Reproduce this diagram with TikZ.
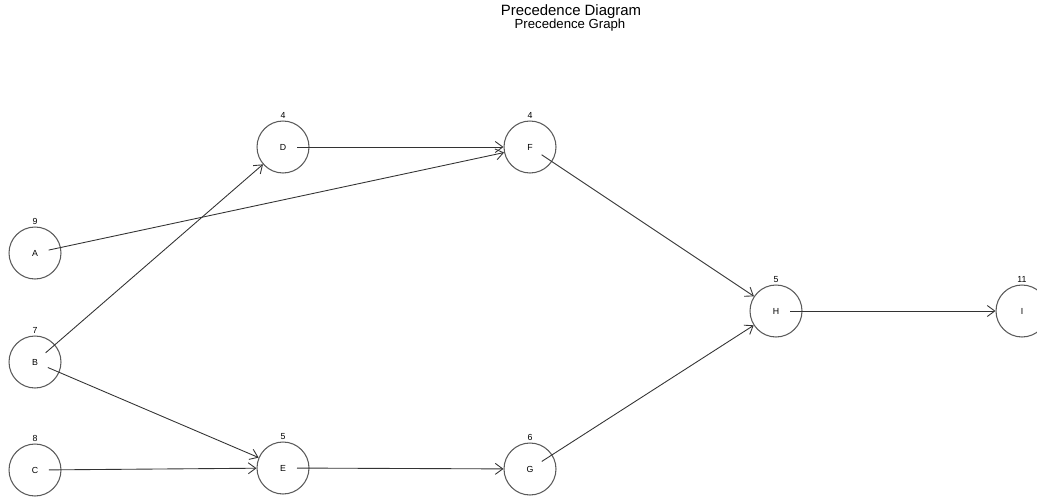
\documentclass[tikz,border=0pt]{standalone}
\usepackage{fontspec}
\setmainfont{Liberation Sans}
\usepackage{tikz}
\usetikzlibrary{arrows.meta}
\definecolor{graphEdge}{HTML}{333333}
\definecolor{graphNode}{HTML}{5A5A5A}

\begin{document}
\begin{tikzpicture}[
  x=0.02cm, y=-0.02cm,
  task/.style={draw=graphNode, circle, minimum size=1.04cm, inner sep=0pt,
               font=\fontsize{5}{6}\selectfont, line width=0.6pt,
               label={[font=\fontsize{5}{6}\selectfont, inner sep=0.8pt, label distance=0pt]above:#1}},
  a/.style={-{Straight Barb[length=1.5mm, width=2.2mm]}, draw=graphEdge, line width=0.5pt,
            shorten <=0.28cm}
]
\useasboundingbox (0,0) rectangle (1037,497);
\clip (0,0) rectangle (1037,497);
\node[font=\fontsize{8.5}{9}\selectfont] (title) at (571,12) {Precedence Diagram};
\node[font=\fontsize{7.5}{8}\selectfont] (subtitle) at (570,25) {Precedence Graph};

\node[task=9] (A) at (35,253) {A};
\node[task=7] (B) at (35,362) {B};
\node[task=8] (C) at (35,470) {C};
\node[task=4] (D) at (283,147) {D};
\node[task=5] (E) at (283,468) {E};
\node[task=4] (F) at (530,147) {F};
\node[task=6] (G) at (530,469) {G};
\node[task=5] (H) at (776,311) {H};
\node[task=11] (I) at (1022,311) {I};

\draw[a] (A.center) -- (F);
\draw[a] (B.center) -- (D);
\draw[a] (B.center) -- (E);
\draw[a] (C.center) -- (E);
\draw[a] (D.center) -- (F);
\draw[a] (E.center) -- (G);
\draw[a] (F.center) -- (H);
\draw[a] (G.center) -- (H);
\draw[a] (H.center) -- (I);
\end{tikzpicture}
\end{document}
